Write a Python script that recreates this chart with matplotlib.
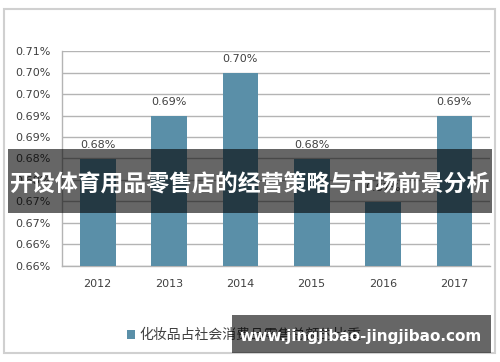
import matplotlib
matplotlib.use("Agg")
import matplotlib.pyplot as plt
from matplotlib.patches import Rectangle

plt.rcParams['font.family'] = ['DejaVu Sans', 'Noto Sans CJK SC']

years = ["2012", "2013", "2014", "2015", "2016", "2017"]
values = [0.6848, 0.6948, 0.7048, 0.6848, 0.6748, 0.6948]
value_labels = ["0.68%", "0.69%", "0.70%", "0.68%", "0.67%", "0.69%"]
tick_values = [0.660, 0.665, 0.670, 0.675, 0.680, 0.685, 0.690, 0.695, 0.700, 0.705, 0.710]
tick_labels = ["0.66%", "0.66%", "0.67%", "0.67%", "0.68%", "0.68%",
               "0.69%", "0.69%", "0.70%", "0.70%", "0.71%"]
legend_label = "化妆品占社会消费品零售总额的比重"
title_text = "开设体育用品零售店的经营策略与市场前景分析"
watermark = "www.jingjibao-jingjibao.com"

W, H = 500, 362
fig = plt.figure(figsize=(W / 100, H / 100), dpi=100)
fig.patch.set_facecolor("white")

# outer chart border
fig.patches.append(Rectangle((4 / W, 1 - 353 / H), 491 / W, 344 / H, transform=fig.transFigure,
                             facecolor="none", edgecolor="#d0d0d0", linewidth=1.5, zorder=1))

ax = fig.add_axes([62 / W, 1 - 266 / H, 428 / W, 215 / H])
ax.set_facecolor("none")
x = list(range(len(years)))
bars = ax.bar(x, values, width=0.5, color="#5A8FA8", zorder=3, label=legend_label)
ax.set_xlim(-0.5, len(years) - 0.5)
ax.set_ylim(tick_values[0], tick_values[-1])
ax.set_yticks(tick_values)
ax.set_yticklabels(tick_labels)
ax.set_xticks(x)
ax.set_xticklabels(years)
ax.tick_params(axis="both", length=0, labelsize=8, colors="#404040")
ax.tick_params(axis="y", pad=8.5)
ax.tick_params(axis="x", pad=9.5)
ax.yaxis.grid(True, color="#b4b4b4", linewidth=1.0, zorder=0)
for s in ["top", "right"]:
    ax.spines[s].set_visible(False)
for s in ["left", "bottom"]:
    ax.spines[s].set_color("#b4b4b4")
    ax.spines[s].set_linewidth(1.0)

for xi, v, lab in zip(x, values, value_labels):
    ax.annotate(lab, (xi, v), xytext=(0, 6.5), textcoords="offset points",
                ha="center", va="bottom", fontsize=8, color="#404040")

leg = fig.legend(loc="center left", bbox_to_anchor=(114 / W, 1 - 335 / H), frameon=False,
                 handlelength=0.6, handleheight=0.6, handletextpad=0.3,
                 prop={"family": ["Noto Sans CJK SC", "DejaVu Sans"], "size": 10})
for t in leg.get_texts():
    t.set_color("#404040")

# title banner
fig.patches.append(Rectangle((8 / W, 1 - 213 / H), 484 / W, 64 / H, transform=fig.transFigure,
                             facecolor="black", alpha=0.6, edgecolor="none", zorder=10))
fig.text(249 / W, 1 - 184 / H, title_text, ha="center", va="center", color="white",
         fontsize=16.5, fontweight="bold", family=["Noto Sans CJK SC", "DejaVu Sans"], zorder=11)

# watermark box
fig.patches.append(Rectangle((232 / W, 1 - 353 / H), 259 / W, 38 / H, transform=fig.transFigure,
                             facecolor="black", alpha=0.6, edgecolor="none", zorder=10))
fig.text(361 / W, 1 - 336 / H, watermark, ha="center", va="center", color="white",
         fontsize=11, fontweight="bold", zorder=11)

fig.savefig("out.png", dpi=100)
